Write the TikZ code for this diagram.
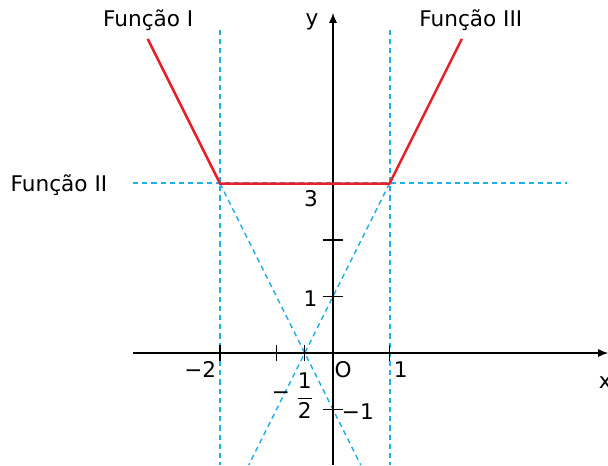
\documentclass[tikz,border=0pt]{standalone}
\usepackage{amsmath}
\usepackage{fontspec}
\setmainfont{DejaVu Sans}
\usepackage{tikz}
\usetikzlibrary{arrows.meta,positioning,calc}
\definecolor{fred}{RGB}{232,32,42}
\definecolor{guide}{RGB}{30,176,232}

\begin{document}
\begin{tikzpicture}[
    x=28.25pt, y=28.25pt,
    >={Latex[length=5pt,width=4pt]},
    font=\fontsize{10.8pt}{13pt}\selectfont,
    axis/.style={draw=black, line width=0.6pt},
    tick/.style={draw=black, line width=0.6pt},
    guideline/.style={draw=guide, line width=0.7pt, dash pattern=on 2.6pt off 2pt},
    graph/.style={draw=fred, line width=1.25pt},
    lbl/.style={inner sep=1pt}
]
\useasboundingbox (-5.894,-1.982) rectangle (4.867,6.248);

% points of the graph
\coordinate (p1) at (-3.28,5.56);
\coordinate (a) at (-2,3);
\coordinate (b) at (1,3);
\coordinate (p3) at (2.28,5.56);

% guide lines
\coordinate (vA1) at (-2,5.72);
\coordinate (vA2) at (-2,-1.982);
\coordinate (vB1) at (1.01,5.72);
\coordinate (vB2) at (1.01,-1.982);
\coordinate (h1) at (-3.54,3.01);
\coordinate (h2) at (4.14,3.01);
\coordinate (dA) at (0.491,-1.982);
\coordinate (dB) at (-1.491,-1.982);
\draw[guideline] (vA1) -- (vA2);
\draw[guideline] (vB1) -- (vB2);
\draw[guideline] (h1) -- (h2);
\draw[guideline] (a) -- (dA);
\draw[guideline] (b) -- (dB);

% axes
\coordinate (xs) at (-3.54,0);
\coordinate (xe) at (4.87,0);
\coordinate (ys) at (0,-1.982);
\coordinate (ye) at (0,6.02);
\draw[axis,->] (xs) -- (xe);
\draw[axis,->] (ys) -- (ye);
\node[lbl] (ylab) at (-0.37,5.86) {y};
\node[lbl] (xlab) at (4.82,-0.52) {x};

% ticks
\foreach \t in {-2,-1,-0.5,1}
    \draw[tick] (\t,0.15) -- (\t,-0.15);
\foreach \t in {2,1,-1}
    \draw[tick] (-0.18,\t) -- (0.18,\t);

\node[lbl] (lm2) at (-2.35,-0.3) {−2};
\node[lbl] (l1) at (1.2,-0.3) {1};
\node[lbl] (lO) at (0.18,-0.3) {O};
\node[lbl] (lmin) at (-0.92,-0.76) {−};
\node[lbl] (lhalf) at (-0.5,-0.76) {$\dfrac{\text{1}}{\text{2}}$};
\node[lbl] (lm1) at (0.44,-1.04) {−1};
\node[lbl] (ly1) at (-0.4,0.97) {1};
\node[lbl] (ly3) at (-0.39,2.73) {3};

% the function
\draw[graph] (p1) -- (a) -- (b) -- (p3);

\node[lbl] (fI) at (-3.27,5.89) {Função I};
\node[lbl] (fII) at (-4.85,2.97) {Função II};
\node[lbl] (fIII) at (2.44,5.89) {Função III};
\end{tikzpicture}
\end{document}
